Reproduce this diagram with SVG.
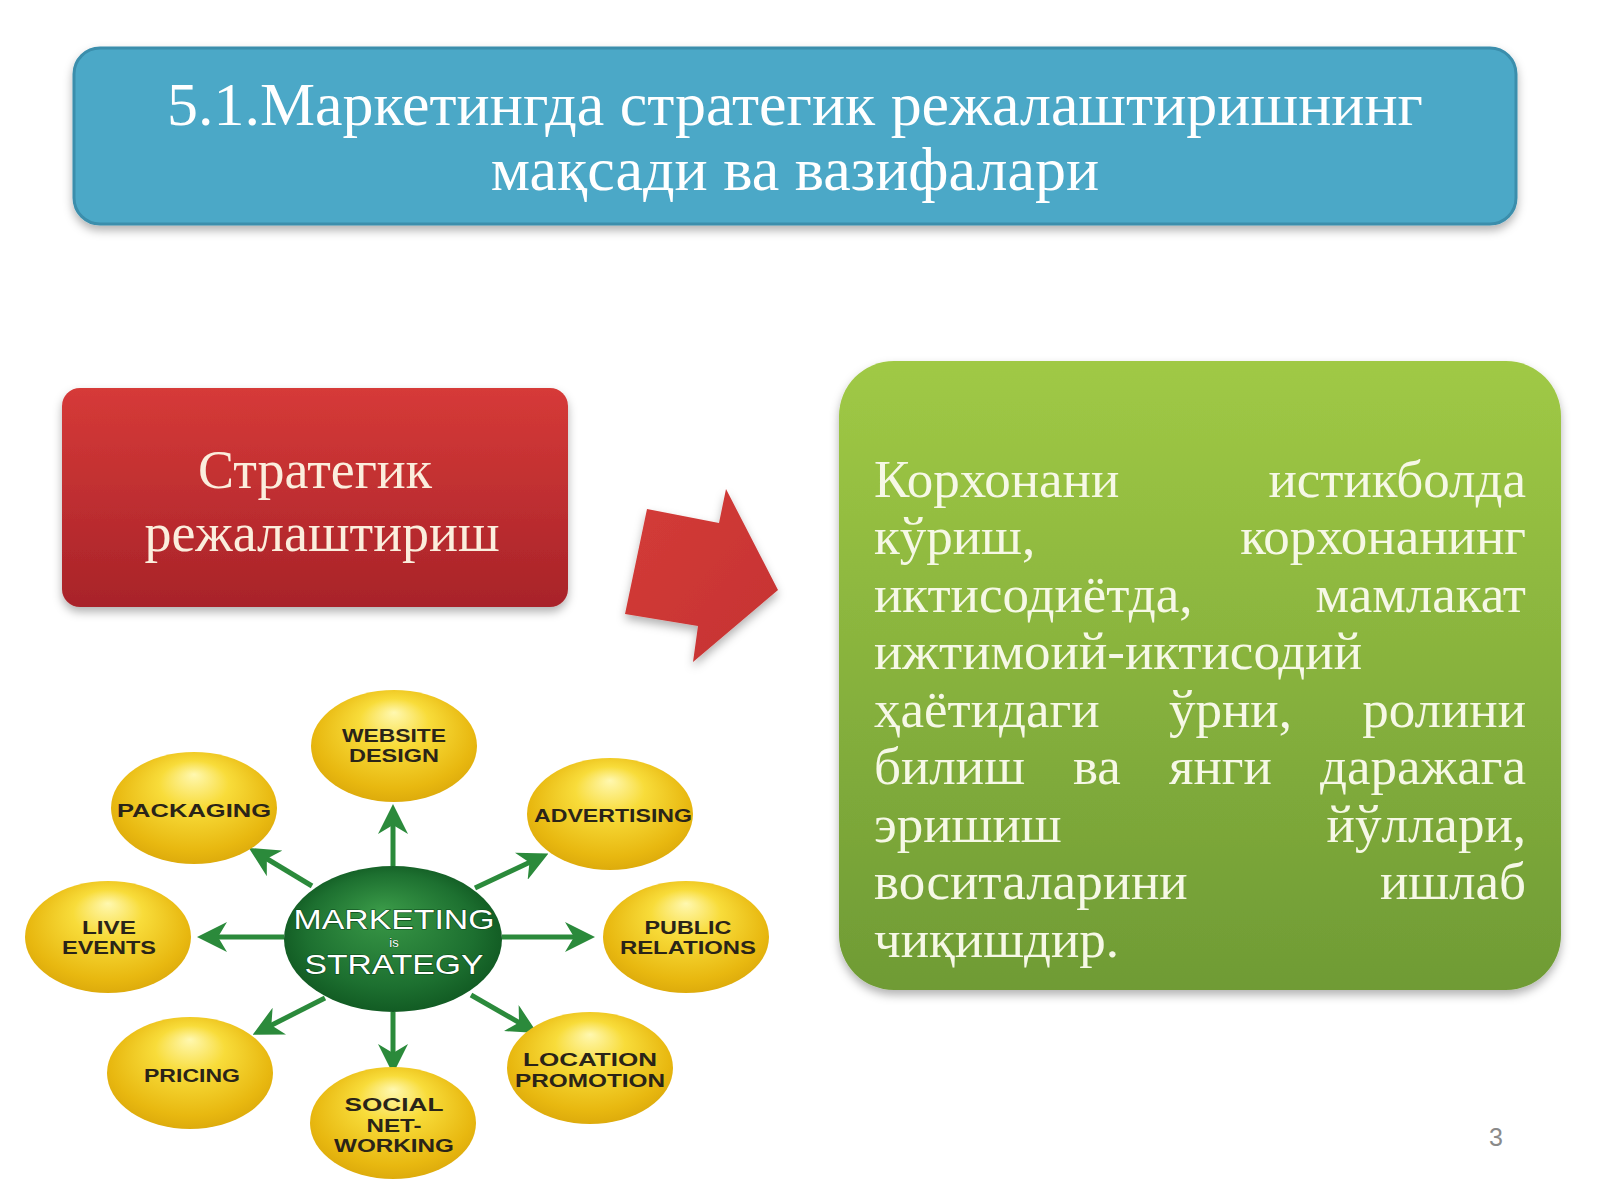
<svg xmlns="http://www.w3.org/2000/svg" width="1600" height="1200" viewBox="0 0 1600 1200">
<defs>
<style>
.serif{font-family:"Liberation Serif","DejaVu Serif",serif;}
.title{font-size:62px;fill:#ffffff;text-anchor:middle;}
.red{font-size:54px;fill:#fbeedd;text-anchor:middle;}
.body{font-size:53px;fill:#f6f8e6;}
.lbl{font-family:"Liberation Sans","DejaVu Sans",sans-serif;font-weight:bold;font-size:19px;fill:#2a2418;text-anchor:middle;}
.ctr{font-family:"Liberation Sans","DejaVu Sans",sans-serif;font-size:28px;fill:#ffffff;text-anchor:middle;stroke:#0d4a1a;stroke-width:1.2;paint-order:stroke;}
.ball{fill:url(#yel);}
.conn line{stroke:#2b8a3b;stroke-width:5;marker-end:url(#ah);}
</style>
<linearGradient id="gRed" x1="0" y1="0" x2="0" y2="1">
<stop offset="0" stop-color="#d63a38"/>
<stop offset="1" stop-color="#a82329"/>
</linearGradient>
<linearGradient id="gGreen" x1="0" y1="0" x2="0" y2="1">
<stop offset="0" stop-color="#a0c945"/>
<stop offset="1" stop-color="#6f9b35"/>
</linearGradient>
<linearGradient id="gArrow" x1="0" y1="0" x2="1" y2="1">
<stop offset="0" stop-color="#d43c38"/>
<stop offset="1" stop-color="#c53232"/>
</linearGradient>
<radialGradient id="yel" cx="0.5" cy="0.45" r="0.6" fx="0.5" fy="0.2">
<stop offset="0" stop-color="#fff8b0"/>
<stop offset="0.35" stop-color="#f8dc3a"/>
<stop offset="0.8" stop-color="#e8b810"/>
<stop offset="1" stop-color="#d9a60a"/>
</radialGradient>
<radialGradient id="grn" cx="0.5" cy="0.5" r="0.55" fx="0.45" fy="0.3">
<stop offset="0" stop-color="#3a9a48"/>
<stop offset="0.7" stop-color="#1d7030"/>
<stop offset="1" stop-color="#0f5620"/>
</radialGradient>
<filter id="sh" x="-10%" y="-10%" width="120%" height="130%">
<feDropShadow dx="0" dy="5" stdDeviation="5" flood-color="#000" flood-opacity="0.3"/>
</filter>
<marker id="ah" viewBox="0 0 10 10" refX="8" refY="5" markerWidth="6" markerHeight="6" orient="auto">
<path d="M0,0 L10,5 L0,10 L3,5 z" fill="#2b8a3b"/>
</marker>
</defs>
<rect width="1600" height="1200" fill="#ffffff"/>

<g id="title">
<rect x="74" y="48" width="1442" height="176" rx="26" fill="#4ba8c7" stroke="#3a8eac" stroke-width="3" filter="url(#sh)"/>
<text class="serif title" x="795" y="125" textLength="1256" lengthAdjust="spacingAndGlyphs">5.1.Маркетингда стратегик режалаштиришнинг</text>
<text class="serif title" x="795" y="190">мақсади ва вазифалари</text>
</g>

<g id="strategic-planning">
<rect x="62" y="388" width="506" height="219" rx="18" fill="url(#gRed)" filter="url(#sh)"/>
<text class="serif red" x="315" y="488">Стратегик</text>
<text class="serif red" x="322" y="551">режалаштириш</text>
</g>

<g id="big-arrow">
<polygon points="647,509 719,523 726,489 778,590 693,662 698,626 625,614" fill="url(#gArrow)" filter="url(#sh)"/>
</g>

<g id="definition">
<rect x="839" y="361" width="722" height="629" rx="55" fill="url(#gGreen)" filter="url(#sh)"/>
<g class="serif body">
<text x="874" y="497">Корхонани</text><text x="1526" y="497" text-anchor="end">истикболда</text>
<text x="874" y="554">кўриш,</text><text x="1526" y="554" text-anchor="end">корхонанинг</text>
<text x="874" y="612">иктисодиётда,</text><text x="1526" y="612" text-anchor="end">мамлакат</text>
<text x="874" y="669">ижтимоий-иктисодий</text>
<text x="874" y="727">ҳаётидаги</text><text x="1169" y="727">ўрни,</text><text x="1526" y="727" text-anchor="end">ролини</text>
<text x="874" y="784">билиш</text><text x="1073" y="784">ва</text><text x="1169" y="784">янги</text><text x="1526" y="784" text-anchor="end">даражага</text>
<text x="874" y="842">эришиш</text><text x="1526" y="842" text-anchor="end">йўллари,</text>
<text x="874" y="899">воситаларини</text><text x="1526" y="899" text-anchor="end">ишлаб</text>
<text x="874" y="957">чиқишдир.</text>
</g>
</g>

<g id="connectors" class="conn">
<line x1="393" y1="866" x2="393" y2="810"/>
<line x1="312" y1="886" x2="254" y2="851"/>
<line x1="475" y1="888" x2="543" y2="856"/>
<line x1="284" y1="937" x2="203" y2="937"/>
<line x1="502" y1="937" x2="589" y2="937"/>
<line x1="325" y1="998" x2="258" y2="1032"/>
<line x1="393" y1="1012" x2="393" y2="1068"/>
<line x1="471" y1="995" x2="532" y2="1030"/>
</g>

<g id="website-design">
<ellipse class="ball" cx="394" cy="746" rx="83" ry="56"/>
<text class="lbl" x="394" y="742" textLength="104" lengthAdjust="spacingAndGlyphs">WEBSITE</text>
<text class="lbl" x="394" y="762" textLength="90" lengthAdjust="spacingAndGlyphs">DESIGN</text>
</g>
<g id="packaging">
<ellipse class="ball" cx="194" cy="808" rx="83" ry="56"/>
<text class="lbl" x="194" y="817" textLength="154" lengthAdjust="spacingAndGlyphs">PACKAGING</text>
</g>
<g id="advertising">
<ellipse class="ball" cx="610" cy="814" rx="83" ry="56"/>
<text class="lbl" x="613" y="822" textLength="158" lengthAdjust="spacingAndGlyphs">ADVERTISING</text>
</g>
<g id="live-events">
<ellipse class="ball" cx="108" cy="937" rx="83" ry="56"/>
<text class="lbl" x="109" y="934" textLength="54" lengthAdjust="spacingAndGlyphs">LIVE</text>
<text class="lbl" x="109" y="954" textLength="94" lengthAdjust="spacingAndGlyphs">EVENTS</text>
</g>
<g id="public-relations">
<ellipse class="ball" cx="686" cy="937" rx="83" ry="56"/>
<text class="lbl" x="688" y="934" textLength="87" lengthAdjust="spacingAndGlyphs">PUBLIC</text>
<text class="lbl" x="688" y="954" textLength="136" lengthAdjust="spacingAndGlyphs">RELATIONS</text>
</g>
<g id="pricing">
<ellipse class="ball" cx="190" cy="1073" rx="83" ry="56"/>
<text class="lbl" x="192" y="1082" textLength="96" lengthAdjust="spacingAndGlyphs">PRICING</text>
</g>
<g id="social-networking">
<ellipse class="ball" cx="393" cy="1123" rx="83" ry="56"/>
<text class="lbl" x="394" y="1111" textLength="99" lengthAdjust="spacingAndGlyphs">SOCIAL</text>
<text class="lbl" x="394" y="1132" textLength="55" lengthAdjust="spacingAndGlyphs">NET-</text>
<text class="lbl" x="394" y="1152" textLength="120" lengthAdjust="spacingAndGlyphs">WORKING</text>
</g>
<g id="location-promotion">
<ellipse class="ball" cx="590" cy="1068" rx="83" ry="56"/>
<text class="lbl" x="590" y="1066" textLength="134" lengthAdjust="spacingAndGlyphs">LOCATION</text>
<text class="lbl" x="590" y="1087" textLength="150" lengthAdjust="spacingAndGlyphs">PROMOTION</text>
</g>
<g id="marketing-strategy">
<ellipse cx="393" cy="939" rx="109" ry="73" fill="url(#grn)"/>
<text class="ctr" x="394" y="929" textLength="201" lengthAdjust="spacingAndGlyphs">MARKETING</text>
<text class="ctr" x="394" y="947" style="font-size:13px;stroke-width:0.6">is</text>
<text class="ctr" x="394" y="974" textLength="179" lengthAdjust="spacingAndGlyphs">STRATEGY</text>
</g>

<text x="1496" y="1146" font-family="Liberation Sans, DejaVu Sans, sans-serif" font-size="25" fill="#8a8a8a" text-anchor="middle">3</text>
</svg>
